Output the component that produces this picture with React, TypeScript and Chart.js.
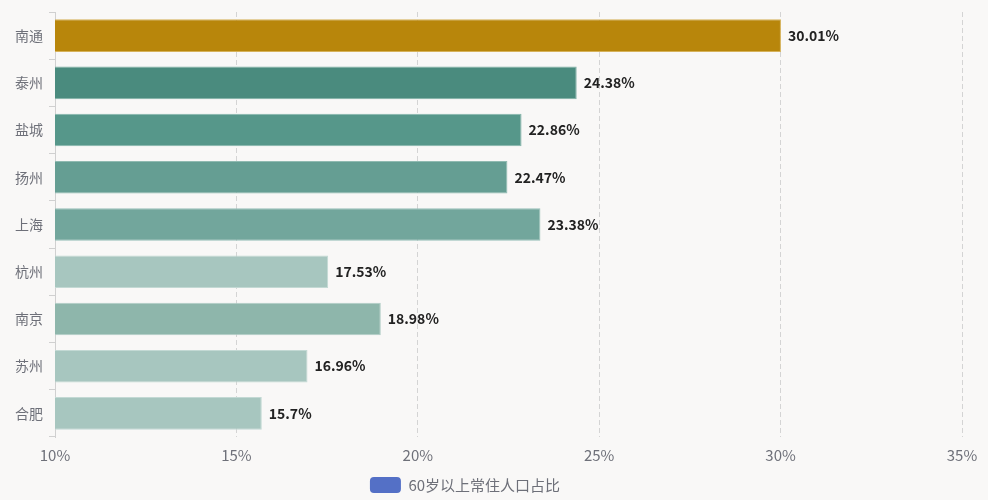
import { useEffect, useRef } from 'react'
import { Chart, registerables } from 'chart.js'

Chart.register(...registerables)

const cities = ['南通', '泰州', '盐城', '扬州', '上海', '杭州', '南京', '苏州', '合肥']
const ratios = [30.01, 24.38, 22.86, 22.47, 23.38, 17.53, 18.98, 16.96, 15.7]
const barColors = ['#b8860b', '#4a8b7e', '#56978a', '#659e93', '#72a69c', '#a7c6bf', '#8eb6ab', '#a7c6bf', '#a7c6bf']
const borderColors = ['#d6b25a', '#7fb0a6', '#86b5ab', '#90bab1', '#99c0b8', '#c3d9d4', '#b1cdc6', '#c3d9d4', '#c3d9d4']
const seriesName = '60岁以上常住人口占比'

const FONT = '"Noto Sans CJK SC", "Noto Sans", sans-serif'

export default function App() {
  const canvasRef = useRef<HTMLCanvasElement>(null)

  useEffect(() => {
    if (!canvasRef.current) return
    document.body.style.margin = '0'

    // value text at the end of each bar
    const valueLabels = {
      id: 'valueLabels',
      afterDatasetsDraw(chart: any) {
        const { ctx } = chart
        ctx.save()
        ctx.font = `bold 14px ${FONT}`
        ctx.fillStyle = '#222222'
        ctx.textAlign = 'left'
        ctx.textBaseline = 'middle'
        chart.getDatasetMeta(0).data.forEach((bar: any, i: number) => {
          ctx.fillText(`${ratios[i]}%`, bar.x + 7, bar.y)
        })
        ctx.restore()
      },
    }

    // legend sits a bit left of the canvas centre and lower in the original
    const legendShift = {
      id: 'legendShift',
      afterLayout(chart: any) {
        if (!chart.legend) return
        chart.legend.left -= 16
        chart.legend.right -= 16
        chart.legend.top += 3
        chart.legend.bottom += 3
      },
    }

    const chart = new Chart(canvasRef.current, {
      type: 'bar',
      plugins: [valueLabels, legendShift],
      data: {
        labels: cities,
        datasets: [{
          label: seriesName,
          data: ratios,
          backgroundColor: barColors,
          borderColor: borderColors,
          borderWidth: 1,
          barPercentage: 0.69,
          categoryPercentage: 1,
        }],
      },
      options: {
        indexAxis: 'y',
        responsive: true,
        maintainAspectRatio: false,
        animation: false,
        layout: { padding: { top: 0, right: 26, left: 0, bottom: 0 } },
        plugins: {
          legend: {
            position: 'bottom',
            labels: {
              color: '#6e7079',
              font: { size: 15, family: FONT },
              boxWidth: 31,
              boxHeight: 16,
              padding: 6,
              useBorderRadius: true,
              borderRadius: 4,
              generateLabels: () => [{
                text: seriesName,
                fillStyle: '#5470c6',
                strokeStyle: '#5470c6',
                lineWidth: 0,
                hidden: false,
                datasetIndex: 0,
                fontColor: '#6e7079',
                borderRadius: 4,
              } as any],
            },
          },
          tooltip: { enabled: false },
        },
        scales: {
          x: {
            min: 10,
            max: 35,
            ticks: {
              stepSize: 5,
              color: '#6e7079',
              font: { size: 15, family: FONT },
              padding: 9,
              callback: (v: any) => `${v}%`,
            },
            grid: { color: '#d4d4d4', drawTicks: false, lineWidth: 1 },
            border: { display: false, dash: [5, 3] },
            afterFit: (scale: any) => { scale.height = 31 },
          },
          y: {
            ticks: {
              color: '#6e7079',
              font: { size: 14, family: FONT },
              padding: 6,
            },
            grid: { drawOnChartArea: false, tickLength: 6, color: '#d0d0d0', offset: true },
            border: { display: true, color: '#d0d0d0' },
            afterFit: (scale: any) => {
              scale.width = 55
              scale.paddingTop = 12
            },
          },
        },
      },
    } as any)

    return () => { chart.destroy() }
  }, [])

  return (
    <div style={{ position: 'fixed', left: 0, top: 0, width: 988, height: 500, background: '#f9f8f7' }}>
      <canvas ref={canvasRef} role="img" aria-label={seriesName} />
    </div>
  )
}
